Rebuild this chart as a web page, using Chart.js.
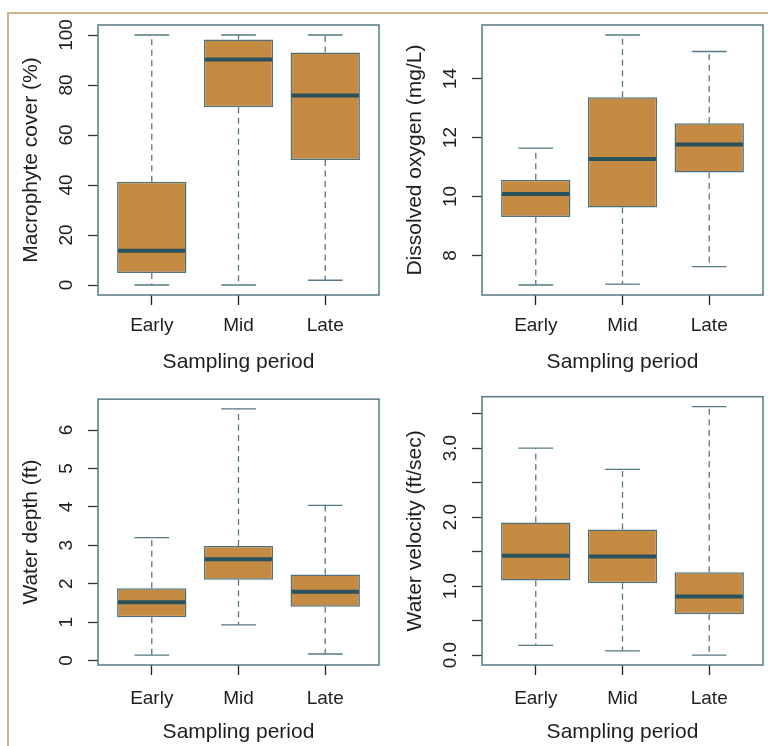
<!DOCTYPE html>
<html>
<head>
<meta charset="utf-8">
<script src="https://cdn.jsdelivr.net/npm/chart.js@4.4.0/dist/chart.umd.min.js"></script>
<style>
  body { margin: 0; background: #fff; width: 768px; height: 746px; overflow: hidden; position: relative; }
  #frame { position: absolute; left: 7px; top: 12px; width: 800px; height: 800px;
           border-top: 2px solid #c9b68e; border-left: 2px solid #c9b68e; }
  .panel { position: absolute; }
</style>
</head>
<body>
<div id="frame"></div>
<div class="panel" style="left:0;top:0"><canvas id="c1" width="384" height="376"></canvas></div>
<div class="panel" style="left:384px;top:0"><canvas id="c2" width="384" height="376"></canvas></div>
<div class="panel" style="left:0;top:372px"><canvas id="c3" width="384" height="374"></canvas></div>
<div class="panel" style="left:384px;top:372px"><canvas id="c4" width="384" height="374"></canvas></div>
<script>
// categories
const periods = ['Early', 'Mid', 'Late'];

// macrophyte cover (%)
const macroMin = [0, 0, 1.9];
const macroQ1 = [4.8, 71.1, 50];
const macroMed = [13.7, 90.2, 75.8];
const macroQ3 = [41.3, 98.2, 93];
const macroMax = [100, 100, 100];
const macroTicks = [0, 20, 40, 60, 80, 100];

// dissolved oxygen (mg/L)
const oxyMin = [7.0, 7.03, 7.62];
const oxyQ1 = [9.31, 9.63, 10.82];
const oxyMed = [10.09, 11.27, 11.77];
const oxyQ3 = [10.57, 13.37, 12.49];
const oxyMax = [11.64, 15.48, 14.92];
const oxyTicks = [8, 10, 12, 14];

// water depth (ft)
const depthMin = [0.14, 0.93, 0.17];
const depthQ1 = [1.13, 2.1, 1.4];
const depthMed = [1.52, 2.64, 1.79];
const depthQ3 = [1.88, 2.98, 2.24];
const depthMax = [3.2, 6.55, 4.04];
const depthTicks = [0, 1, 2, 3, 4, 5, 6];

// water velocity (ft/sec)
const velMin = [0.14, 0.06, 0.0];
const velQ1 = [1.08, 1.04, 0.59];
const velMed = [1.44, 1.43, 0.85];
const velQ3 = [1.92, 1.82, 1.2];
const velMax = [3.0, 2.69, 3.6];
const velTicks = [0, 0.5, 1, 1.5, 2, 2.5, 3, 3.5];

const FONT = '"Liberation Sans", Arial, sans-serif';
const TICK_SIZE = 19;
const TITLE_SIZE = 21;
const TXT = '#1e1e1e';
const SLATE = '#567883';

// whiskers, caps and medians drawn round the bar boxes
const boxPlugin = {
  id: 'boxplot',
  beforeDatasetsDraw(chart, args, opts) {
    const ctx = chart.ctx;
    const ys = chart.scales.y;
    const meta = chart.getDatasetMeta(0);
    ctx.save();
    ctx.strokeStyle = SLATE;
    ctx.lineWidth = 1.3;
    meta.data.forEach((el, i) => {
      const x = el.x, w = el.width;
      ctx.setLineDash([6, 4.5]);
      ctx.beginPath();
      ctx.moveTo(x, ys.getPixelForValue(opts.q3[i]));
      ctx.lineTo(x, ys.getPixelForValue(opts.max[i]));
      ctx.moveTo(x, ys.getPixelForValue(opts.q1[i]));
      ctx.lineTo(x, ys.getPixelForValue(opts.min[i]));
      ctx.stroke();
      ctx.setLineDash([]);
      ctx.beginPath();
      [opts.min[i], opts.max[i]].forEach(v => {
        const y = ys.getPixelForValue(v);
        ctx.moveTo(x - w / 4, y);
        ctx.lineTo(x + w / 4, y);
      });
      ctx.stroke();
    });
    ctx.restore();
  },
  afterDatasetsDraw(chart, args, opts) {
    const ctx = chart.ctx;
    const ys = chart.scales.y;
    const meta = chart.getDatasetMeta(0);
    ctx.save();
    ctx.strokeStyle = '#28525d';
    ctx.lineWidth = 4;
    meta.data.forEach((el, i) => {
      const y = ys.getPixelForValue(opts.med[i]);
      ctx.beginPath();
      ctx.moveTo(el.x - el.width / 2 + 1, y);
      ctx.lineTo(el.x + el.width / 2 - 1, y);
      ctx.stroke();
    });
    const a = chart.chartArea;
    ctx.strokeStyle = SLATE;
    ctx.lineWidth = 1.5;
    ctx.strokeRect(a.left, a.top, a.right - a.left, a.bottom - a.top);
    ctx.restore();
  }
};

function measure(labels) {
  const c = document.createElement('canvas').getContext('2d');
  c.font = TICK_SIZE + 'px ' + FONT;
  return Math.max(...labels.map(s => c.measureText(s).width));
}

function makePanel(id, yTitle, min, q1, med, q3, max, yTicks, fmt, pad) {
  const lo = Math.min(...min), hi = Math.max(...max);
  const ext = (hi - lo) * 0.04;
  const labels = yTicks.map(fmt);
  const widest = measure(labels);
  new Chart(document.getElementById(id), {
    type: 'bar',
    data: {
      datasets: [{
        data: periods.map((p, i) => ({ x: i + 1, y: [q1[i], q3[i]] })),
        backgroundColor: '#c68b42',
        borderColor: '#4f717c',
        borderWidth: 1.5,
        borderSkipped: false,
        barPercentage: 0.8,
        categoryPercentage: 1.0
      }]
    },
    options: {
      responsive: false,
      animation: false,
      layout: { padding: { left: 0, right: 5, top: pad.top, bottom: pad.bottom } },
      plugins: {
        legend: { display: false },
        tooltip: { enabled: false },
        boxplot: { min, q1, med, q3, max }
      },
      scales: {
        x: {
          type: 'linear',
          offset: false,
          min: 0.5 - 0.12,
          max: 3.5 + 0.12,
          afterBuildTicks: s => { s.ticks = periods.map((p, i) => ({ value: i + 1 })); },
          afterFit: s => { s.height = 80.5; },
          border: { display: false },
          grid: { offset: false, drawOnChartArea: false, drawTicks: true, tickLength: 10, tickColor: '#222', tickWidth: 1.3 },
          ticks: {
            callback: v => periods[v - 1],
            font: { family: FONT, size: TICK_SIZE },
            color: TXT,
            padding: pad.label,
            maxRotation: 0,
            autoSkip: false
          },
          title: {
            display: true,
            text: 'Sampling period',
            font: { family: FONT, size: TITLE_SIZE },
            color: TXT,
            padding: { top: 0, bottom: 0.7 }
          }
        },
        y: {
          min: lo - ext,
          max: hi + ext,
          afterBuildTicks: s => { s.ticks = yTicks.map(v => ({ value: v })); },
          afterFit: s => { s.width = 98; },
          border: { display: false },
          grid: { drawOnChartArea: false, drawTicks: true, tickLength: 10, tickColor: '#333', tickWidth: 1.3 },
          ticks: {
            callback: v => fmt(v),
            font: { family: FONT, size: TICK_SIZE },
            color: TXT,
            minRotation: 90,
            maxRotation: 90,
            crossAlign: 'center',
            padding: 21 - widest / 2,
            autoSkip: false
          },
          title: {
            display: true,
            text: yTitle,
            font: { family: FONT, size: TITLE_SIZE },
            color: TXT,
            padding: { top: 18.7, bottom: 0 }
          }
        }
      }
    },
    plugins: [boxPlugin]
  });
}

const topRow = { top: 25, bottom: 0.5, label: 9.5 };
const bottomRow = { top: 24.7, bottom: 0.5, label: 12 };

makePanel('c1', 'Macrophyte cover (%)', macroMin, macroQ1, macroMed, macroQ3, macroMax,
  macroTicks, v => String(v), topRow);
makePanel('c2', 'Dissolved oxygen (mg/L)', oxyMin, oxyQ1, oxyMed, oxyQ3, oxyMax,
  oxyTicks, v => String(v), topRow);
makePanel('c3', 'Water depth (ft)', depthMin, depthQ1, depthMed, depthQ3, depthMax,
  depthTicks, v => String(v), bottomRow);
makePanel('c4', 'Water velocity (ft/sec)', velMin, velQ1, velMed, velQ3, velMax,
  velTicks, v => (Number.isInteger(v) ? v.toFixed(1) : ''), bottomRow);
</script>
</body>
</html>
